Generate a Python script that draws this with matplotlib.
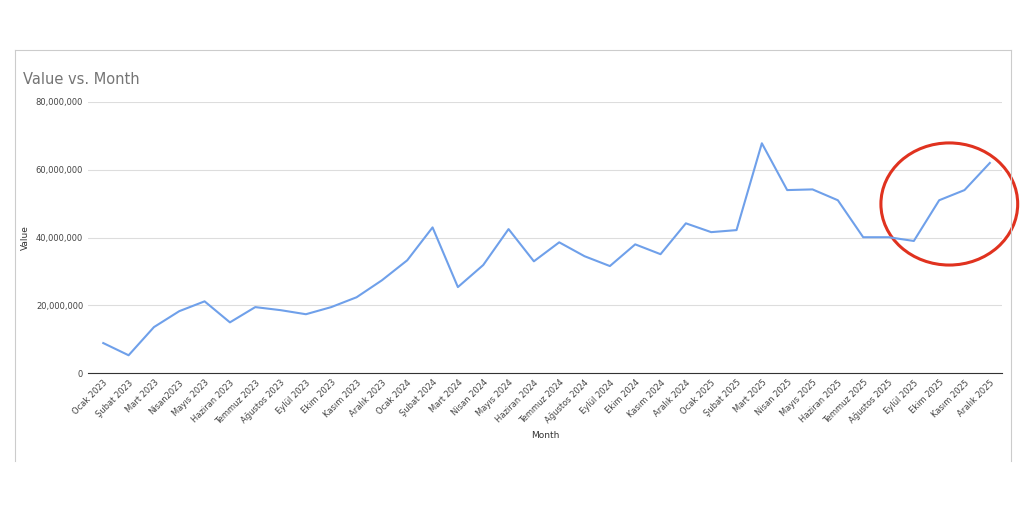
import matplotlib.pyplot as plt
from matplotlib.patches import Ellipse
from matplotlib.lines import Line2D
from matplotlib.ticker import FuncFormatter

months = ["Ocak 2023", "Şubat 2023", "Mart 2023", "Nisan2023", "Mayıs 2023", "Haziran 2023",
          "Temmuz 2023", "Ağustos 2023", "Eylül 2023", "Ekim 2023", "Kasım 2023", "Aralık 2023",
          "Ocak 2024", "Şubat 2024", "Mart 2024", "Nisan 2024", "Mayıs 2024", "Haziran 2024",
          "Temmuz 2024", "Ağustos 2024", "Eylül 2024", "Ekim 2024", "Kasım 2024", "Aralık 2024",
          "Ocak 2025", "Şubat 2025", "Mart 2025", "Nisan 2025", "Mayıs 2025", "Haziran 2025",
          "Temmuz 2025", "Ağustos 2025", "Eylül 2025", "Ekim 2025", "Kasım 2025", "Aralık 2025"]
values = [8.9, 5.3, 13.6, 18.3, 21.2, 15.0, 19.5, 18.6, 17.4, 19.5, 22.4, 27.4,
          33.3, 43.0, 25.4, 31.9, 42.5, 33.0, 38.6, 34.5, 31.6, 38.0, 35.1, 44.2,
          41.6, 42.2, 67.8, 54.0, 54.2, 51.0, 40.1, 40.1, 39.0, 51.0, 54.0, 62.0]
values = [v * 1e6 for v in values]

fig = plt.figure(figsize=(10.24, 5.12), dpi=100)
ax = fig.add_axes([0.086, 0.271, 0.893, 0.530])
x = list(range(len(months)))
ax.plot(x, values, color='#6fa0ea', linewidth=1.5)
ax.set_xlim(-0.6, 35.5)
ax.set_ylim(0, 80e6)
ax.set_yticks([0, 20e6, 40e6, 60e6, 80e6])
ax.yaxis.set_major_formatter(FuncFormatter(lambda v, p: f"{int(v):,}"))
ax.set_xticks(x)
ax.set_xticklabels(months, rotation=45, ha='right', rotation_mode='anchor', fontsize=6, color='#444444')
ax.tick_params(axis='y', labelsize=6, colors='#444444', length=0)
ax.tick_params(axis='x', length=0)
ax.grid(axis='y', color='#dddddd', linewidth=0.8)
for s in ['top', 'right', 'left']:
    ax.spines[s].set_visible(False)
ax.spines['bottom'].set_color('#333333')
ax.set_axisbelow(True)
ax.set_xlabel("Month", fontsize=6.5, color='#333333')
ax.set_ylabel("Value", fontsize=6.5, color='#333333')
fig.text(0.022, 0.835, "Value vs. Month", fontsize=10.5, color='#757575')

ax.add_patch(Ellipse((33.4, 49.9e6), 5.4, 36e6, fill=False, edgecolor='#e0321f', linewidth=2.2, clip_on=False))

# surrounding frame lines
fig.add_artist(Line2D([0.015, 0.987], [0.902, 0.902], color='#cccccc', linewidth=0.8))
fig.add_artist(Line2D([0.015, 0.015], [0.10, 0.902], color='#cccccc', linewidth=0.8))
fig.add_artist(Line2D([0.987, 0.987], [0.10, 0.902], color='#cccccc', linewidth=0.8))

plt.savefig('out.png')
